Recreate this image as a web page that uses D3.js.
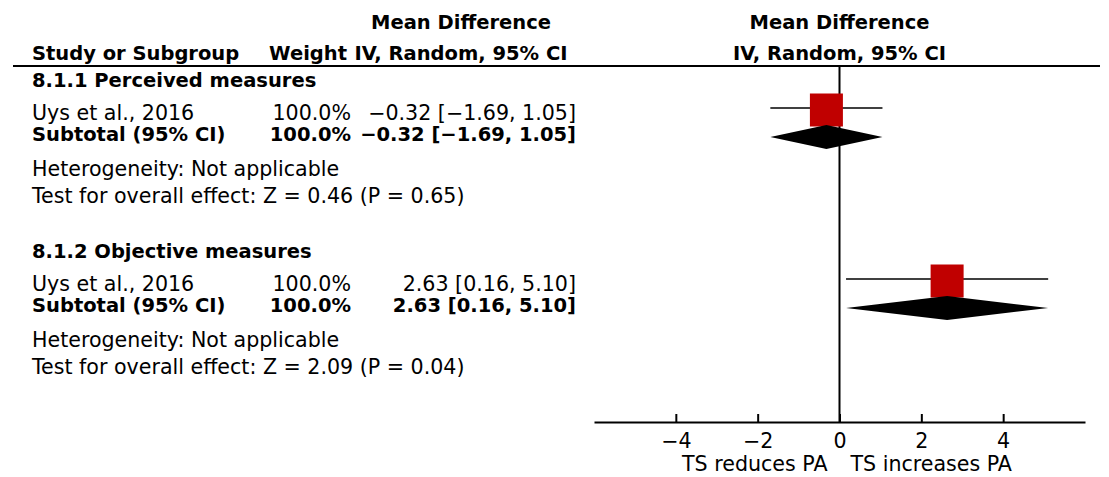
<!DOCTYPE html>
<html>
<head>
<meta charset="utf-8">
<script src="https://cdn.jsdelivr.net/npm/d3@7"></script>
<style>
  html, body { margin: 0; padding: 0; background: #fff; }
  svg text { font-family: "DejaVu Sans", Verdana, sans-serif; font-size: 20.6px; fill: #000; }
  svg text.b { font-weight: bold; font-size: 19.5px; }
</style>
</head>
<body>
<svg id="chart" width="1109" height="477"></svg>
<script>
// ---- data ----
const subgroups = ["8.1.1 Perceived measures", "8.1.2 Objective measures"];
const studyNames = ["Uys et al., 2016", "Uys et al., 2016"];
const studyWeights = [100.0, 100.0];
const studyMD = [-0.32, 2.63];
const studyLow = [-1.69, 0.16];
const studyHigh = [1.05, 5.10];
const subtotalWeights = [100.0, 100.0];
const subtotalMD = [-0.32, 2.63];
const subtotalLow = [-1.69, 0.16];
const subtotalHigh = [1.05, 5.10];
const heterogeneity = ["Not applicable", "Not applicable"];
const zValues = [0.46, 2.09];
const pValues = [0.65, 0.04];
const axisTicks = [-4, -2, 0, 2, 4];
const axisLabels = ["TS reduces PA", "TS increases PA"];

// ---- layout ----
const svg = d3.select("#chart");
const x = d3.scaleLinear().domain([-6, 6]).range([594, 1085]);
const sec = d3.scaleLinear().domain([0, 1]).range([0, 171]);
const fmt = d3.format(".2f");
const num = v => fmt(v).replace("-", "\u2212");
const pct = v => d3.format(".1f")(v) + "%";
const ci = (m, l, h) => `${num(m)} [${num(l)}, ${num(h)}]`;

const colL = 32, colW = 351, colCI = 576, colCIc = 461;
const axisY = 422, headerLineY = 66;

// headers
svg.append("text").attr("class", "b").attr("x", colCIc).attr("y", 29).attr("text-anchor", "middle").text("Mean Difference");
svg.append("text").attr("class", "b").attr("x", x(0)).attr("y", 29).attr("text-anchor", "middle").text("Mean Difference");
svg.append("text").attr("class", "b").attr("x", colL).attr("y", 60).text("Study or Subgroup");
svg.append("text").attr("class", "b").attr("x", colW - 4).attr("y", 60).attr("text-anchor", "end").text("Weight");
svg.append("text").attr("class", "b").attr("x", colCIc).attr("y", 60).attr("text-anchor", "middle").text("IV, Random, 95% CI");
svg.append("text").attr("class", "b").attr("x", x(0)).attr("y", 60).attr("text-anchor", "middle").text("IV, Random, 95% CI");

svg.append("line").attr("x1", 13).attr("x2", 1100).attr("y1", headerLineY).attr("y2", headerLineY)
  .attr("stroke", "#000").attr("stroke-width", 2);

// zero line
svg.append("line").attr("x1", x(0)).attr("x2", x(0)).attr("y1", headerLineY).attr("y2", axisY)
  .attr("stroke", "#000").attr("stroke-width", 2);

subgroups.forEach((g, i) => {
  const o = sec(i);
  svg.append("text").attr("class", "b").attr("x", colL).attr("y", 87 + o).text(g);
  // study row
  svg.append("text").attr("x", colL).attr("y", 120 + o).text(studyNames[i]);
  svg.append("text").attr("x", colW).attr("y", 120 + o).attr("text-anchor", "end").text(pct(studyWeights[i]));
  svg.append("text").attr("x", colCI).attr("y", 120 + o).attr("text-anchor", "end").text(ci(studyMD[i], studyLow[i], studyHigh[i]));
  // subtotal
  svg.append("text").attr("class", "b").attr("x", colL).attr("y", 141 + o).text("Subtotal (95% CI)");
  svg.append("text").attr("class", "b").attr("x", colW).attr("y", 141 + o).attr("text-anchor", "end").text(pct(subtotalWeights[i]));
  svg.append("text").attr("class", "b").attr("x", colCI).attr("y", 141 + o).attr("text-anchor", "end").text(ci(subtotalMD[i], subtotalLow[i], subtotalHigh[i]));
  svg.append("text").attr("x", colL).attr("y", 176 + o).text("Heterogeneity: " + heterogeneity[i]);
  svg.append("text").attr("x", colL).attr("y", 203 + o)
    .text(`Test for overall effect: Z = ${fmt(zValues[i])} (P = ${fmt(pValues[i])})`);

  // marks
  const yS = 108 + o;
  svg.append("line").attr("x1", x(studyLow[i])).attr("x2", x(studyHigh[i])).attr("y1", yS).attr("y2", yS)
    .attr("stroke", "#000").attr("stroke-width", 1.6);
  const sz = 33;
  svg.append("rect").attr("x", x(studyMD[i]) - sz / 2).attr("y", yS - sz / 2 + 2).attr("width", sz).attr("height", sz)
    .attr("fill", "#c00000");
  const yD = 137 + o, hh = 12;
  svg.append("path")
    .attr("d", `M${x(subtotalLow[i])},${yD} L${x(subtotalMD[i])},${yD - hh} L${x(subtotalHigh[i])},${yD} L${x(subtotalMD[i])},${yD + hh} Z`)
    .attr("fill", "#000");
});

// axis
const axis = d3.axisBottom(x).tickValues(axisTicks).tickSize(0).tickPadding(0)
  .tickFormat(d => d3.format("d")(d).replace("-", "\u2212"));
const ga = svg.append("g").attr("transform", `translate(0,${axisY})`).call(axis);
ga.select(".domain").attr("stroke", "#000").attr("stroke-width", 2);
ga.selectAll(".tick line").attr("y1", 0).attr("y2", -8).attr("stroke", "#000").attr("stroke-width", 2);
ga.selectAll(".tick text").attr("dy", null).attr("y", 26).style("font-family", '"DejaVu Sans", sans-serif').style("font-size", "20.6px").attr("fill", "#000");

svg.append("text").attr("x", x(0) - 12).attr("y", 471).attr("text-anchor", "end").text(axisLabels[0]);
svg.append("text").attr("x", x(0) + 11).attr("y", 471).attr("text-anchor", "start").text(axisLabels[1]);
</script>
</body>
</html>
